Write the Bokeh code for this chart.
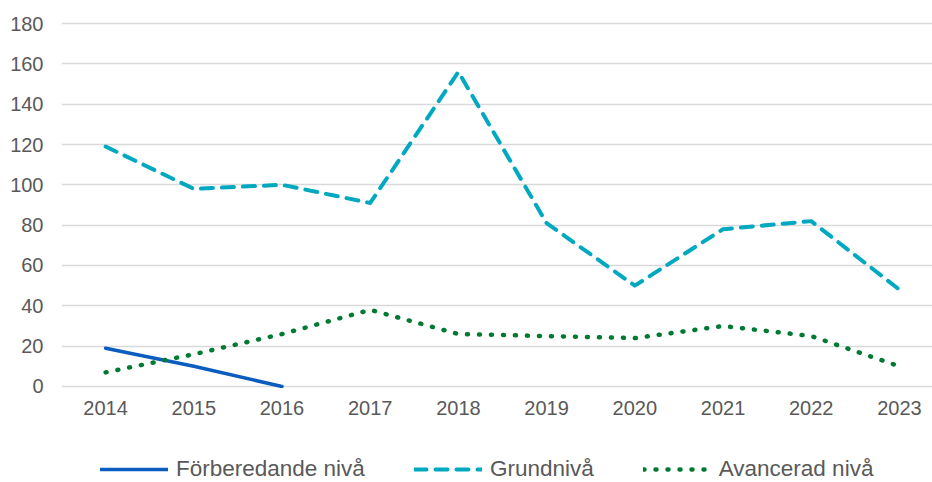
from bokeh.plotting import figure
from bokeh.layouts import column
from bokeh.models import Range1d, FixedTicker, Legend, LegendItem
from bokeh.embed import file_html
from bokeh.resources import INLINE

years = [2014, 2015, 2016, 2017, 2018, 2019, 2020, 2021, 2022, 2023]
forb_years = [2014, 2015, 2016]
forberedande = [19, 10, 0]
grundniva = [119, 98, 100, 91, 156, 81, 50, 78, 82, 48]
avancerad = [7, 16, 26, 38, 26, 25, 24, 30, 25, 10]
y_ticks = [0, 20, 40, 60, 80, 100, 120, 140, 160, 180]
series_names = ["Förberedande nivå", "Grundnivå", "Avancerad nivå"]

FONT = "Liberation Sans"
GRAY = "#595959"
styles = [
    dict(line_color="#0A5CBF", line_width=3.5, line_cap="round"),
    dict(line_color="#00A8C0", line_width=4, line_dash="12 9", line_cap="round", line_join="round"),
    dict(line_color="#007A33", line_width=4.5, line_dash="1 11", line_cap="round", line_join="round"),
]
series = [(forb_years, forberedande), (years, grundniva), (years, avancerad)]

fig = figure(width=932, height=424, output_backend="svg", toolbar_location=None,
             x_range=Range1d(2013.5, 2023.375), y_range=Range1d(-1, 181),
             min_border_left=61, min_border_right=0, min_border_top=21, min_border_bottom=36)
fig.outline_line_color = None
fig.background_fill_color = "white"
fig.border_fill_color = "white"

fig.xgrid.grid_line_color = None
fig.ygrid.grid_line_color = "#D9D9D9"
fig.ygrid.grid_line_width = 1.5

fig.yaxis.ticker = FixedTicker(ticks=y_ticks)
fig.xaxis.ticker = FixedTicker(ticks=years)
for ax in (fig.xaxis[0], fig.yaxis[0]):
    ax.axis_line_color = None
    ax.major_tick_line_color = None
    ax.minor_tick_line_color = None
    ax.major_tick_out = 0
    ax.major_tick_in = 0
    ax.major_label_text_font = FONT
    ax.major_label_text_font_size = "20px"
    ax.major_label_text_color = GRAY
fig.yaxis.major_label_standoff = 18
fig.xaxis.major_label_standoff = 12

for (xs, ys), s in zip(series, styles):
    fig.line(xs, ys, **s)

# separate strip below the chart that holds the legend; its key lines use the
# same series but lie outside this strip's ranges, so only the legend shows
leg = figure(width=932, height=58, output_backend="svg", toolbar_location=None,
             x_range=Range1d(0, 1), y_range=Range1d(0, 1),
             x_axis_type=None, y_axis_type=None,
             min_border_left=0, min_border_right=0, min_border_top=0, min_border_bottom=0)
leg.outline_line_color = None
leg.grid.visible = False
keys = [leg.line(xs, ys, **s) for (xs, ys), s in zip(series, styles)]

legend = Legend(items=[LegendItem(label=n, renderers=[r]) for n, r in zip(series_names, keys)],
                orientation="horizontal", location=(39, 0),
                padding=0, margin=0, spacing=49, label_standoff=8,
                glyph_width=68, glyph_height=20, label_height=20,
                border_line_color=None, background_fill_alpha=0)
legend.label_text_font = FONT
legend.label_text_font_size = "22.5px"
legend.label_text_color = GRAY
leg.add_layout(legend)

p = column(fig, leg, spacing=0)

open("out.html", "w").write(file_html(p, INLINE))
